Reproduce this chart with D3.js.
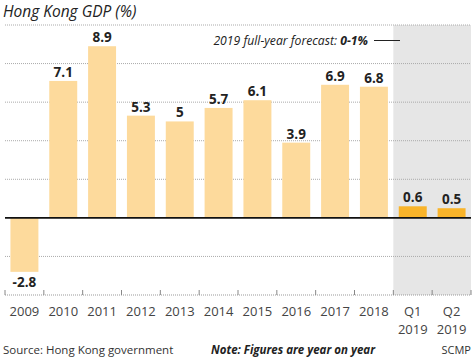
<!DOCTYPE html>
<html>
<head>
<meta charset="utf-8">
<title>Hong Kong GDP</title>
<script src="https://cdnjs.cloudflare.com/ajax/libs/d3/7.8.5/d3.min.js"></script>
<style>
  body { margin: 0; background: #fff; }
  svg text { font-family: "Open Sans", "DejaVu Sans", sans-serif; fill: #222; }
</style>
</head>
<body>
<div id="chart"></div>
<script>
const categories = ["2009", "2010", "2011", "2012", "2013", "2014", "2015", "2016", "2017", "2018", "Q1\n2019", "Q2\n2019"];
const values = [-2.8, 7.1, 8.9, 5.3, 5, 5.7, 6.1, 3.9, 6.9, 6.8, 0.6, 0.5];
const quarterly = [false, false, false, false, false, false, false, false, false, false, true, true];
const gridTicks = [-2, 2, 4, 6, 8, 10];

const width = 474, height = 360;
const svg = d3.select("#chart").append("svg")
    .attr("width", width)
    .attr("height", height);

const x = d3.scaleBand()
    .domain(categories)
    .range([5, 471])
    .paddingInner(0.28)
    .paddingOuter(0.14);

const y = d3.scaleLinear()
    .domain([-4, 10])
    .range([295, 25]);

const bandLeft = c => x(c) - x.step() * x.paddingInner() / 2;

// shaded 2019 area
svg.append("rect")
    .attr("x", bandLeft("Q1\n2019"))
    .attr("y", y(10))
    .attr("width", 471 - bandLeft("Q1\n2019"))
    .attr("height", y(-4) - y(10))
    .attr("fill", "#e6e6e6");

// gridlines
svg.append("g")
    .selectAll("line")
    .data(gridTicks)
    .join("line")
    .attr("x1", 5).attr("x2", 471)
    .attr("y1", d => y(d)).attr("y2", d => y(d))
    .attr("stroke", "#aaa")
    .attr("stroke-width", 1)
    .attr("stroke-dasharray", "1,1");

// bars
svg.append("g")
    .selectAll("rect")
    .data(values)
    .join("rect")
    .attr("x", (d, i) => x(categories[i]))
    .attr("width", x.bandwidth())
    .attr("y", d => y(Math.max(0, d)))
    .attr("height", d => Math.abs(y(d) - y(0)))
    .attr("fill", (d, i) => quarterly[i] ? "#f9b42a" : "#fdda9c");

// value labels
svg.append("g")
    .selectAll("text")
    .data(values)
    .join("text")
    .attr("x", (d, i) => x(categories[i]) + x.bandwidth() / 2)
    .attr("y", d => d >= 0 ? y(d) - 4 : y(d) + 15)
    .attr("text-anchor", "middle")
    .attr("font-size", 13.5)
    .attr("font-weight", "bold")
    .text(d => d);

// zero line
svg.append("line")
    .attr("x1", 5).attr("x2", 471)
    .attr("y1", y(0)).attr("y2", y(0))
    .attr("stroke", "#111")
    .attr("stroke-width", 1.6);

// bottom axis
const axis = svg.append("g").attr("transform", `translate(0,${y(-4)})`);
axis.append("line")
    .attr("x1", 5).attr("x2", 471)
    .attr("stroke", "#999")
    .attr("stroke-dasharray", "1,1");
const edges = categories.map(bandLeft).concat([471]);
axis.selectAll("line.tick")
    .data(edges)
    .join("line")
    .attr("class", "tick")
    .attr("x1", d => d).attr("x2", d => d)
    .attr("y1", -5).attr("y2", 0)
    .attr("stroke", "#888");

const labels = axis.selectAll("text.lab")
    .data(categories)
    .join("text")
    .attr("class", "lab")
    .attr("x", d => x(d) + x.bandwidth() / 2)
    .attr("y", 21)
    .attr("text-anchor", "middle")
    .attr("font-size", 13)
    .style("fill", "#444");
labels.selectAll("tspan")
    .data(d => d.split("\n"))
    .join("tspan")
    .attr("x", function() { return this.parentNode.getAttribute("x"); })
    .attr("dy", (d, i) => i === 0 ? 0 : 18)
    .text(d => d);

// title
svg.append("text")
    .attr("x", 3).attr("y", 17)
    .attr("font-size", 15.5)
    .attr("font-style", "italic")
    .text("Hong Kong GDP (%)");

// forecast annotation
const note = svg.append("text")
    .attr("x", 368).attr("y", 45)
    .attr("text-anchor", "end")
    .attr("font-size", 12.2)
    .attr("font-style", "italic");
note.append("tspan").text("2019 full-year forecast: ");
note.append("tspan").attr("font-weight", "bold").text("0-1%");
svg.append("line")
    .attr("x1", 374).attr("x2", 400)
    .attr("y1", 40.5).attr("y2", 40.5)
    .attr("stroke", "#222")
    .attr("stroke-width", 1);

// footer
svg.append("text")
    .attr("x", 3).attr("y", 354)
    .attr("font-size", 11.5)
    .style("fill", "#333")
    .text("Source: Hong Kong government");
svg.append("text")
    .attr("x", 375).attr("y", 354)
    .attr("text-anchor", "end")
    .attr("font-size", 11.5)
    .attr("font-style", "italic")
    .attr("font-weight", "bold")
    .text("Note: Figures are year on year");
svg.append("text")
    .attr("x", 471).attr("y", 354)
    .attr("text-anchor", "end")
    .attr("font-size", 11)
    .style("fill", "#333")
    .text("SCMP");
</script>
</body>
</html>
